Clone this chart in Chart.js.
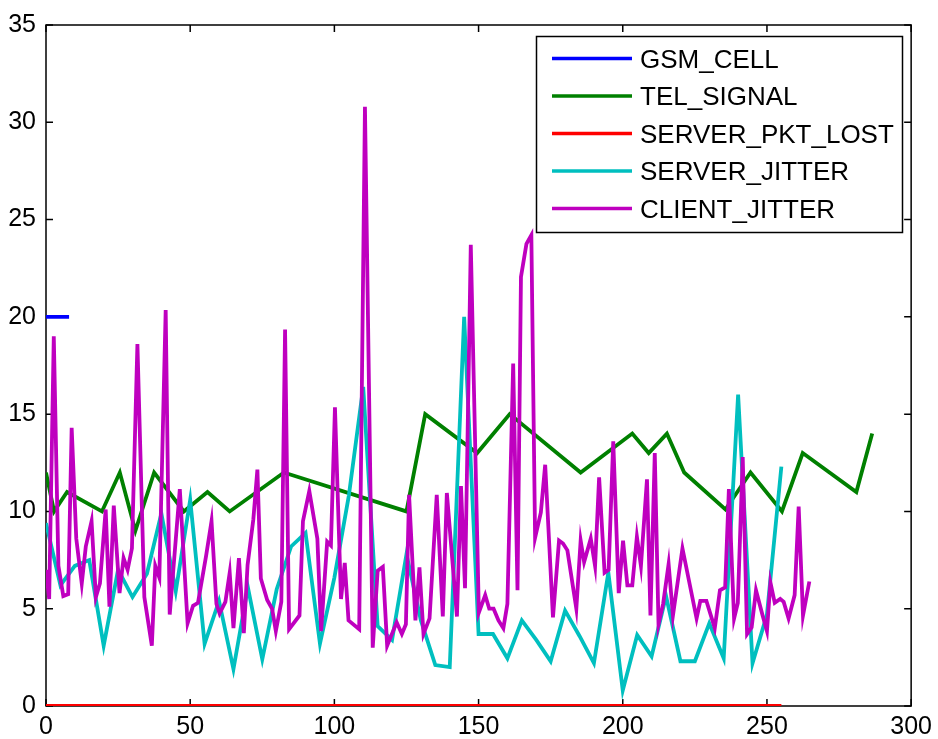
<!DOCTYPE html>
<html>
<head>
<meta charset="utf-8">
<script src="https://cdn.jsdelivr.net/npm/chart.js@4"></script>
<style>
  html, body { margin: 0; padding: 0; background: #fff; }
  #wrap { width: 938px; height: 739px; }
</style>
</head>
<body>
<div id="wrap"><canvas id="chart" width="938" height="739"></canvas></div>
<script>
// tick labels
const xTickValues = [0, 50, 100, 150, 200, 250, 300];
const yTickValues = [0, 5, 10, 15, 20, 25, 30, 35];

// GSM_CELL
const gsmX = [0, 8];
const gsmCell = [20, 20];

// TEL_SIGNAL
const telX = [0, 2.8, 7.3, 19.4, 25.6, 31, 37.5, 47.8, 56, 63.7, 82.5, 125, 131.5, 149.5, 160.8,
  185.4, 203.3, 209, 215.3, 221.3, 235.6, 244.3, 255.2, 262.4, 281, 286.5];
const telSignal = [12, 10, 11, 10, 12, 9, 12, 10, 11, 10, 12, 10, 15, 13, 15,
  12, 14, 13, 14, 12, 10.1, 12, 10, 13, 11, 14];

// SERVER_PKT_LOST
const lostX = [0, 255];
const serverPktLost = [0, 0];

// SERVER_JITTER
const srvX = [0, 5, 10, 15, 20, 25, 30, 35, 40, 45, 50, 55, 60, 65, 70, 75, 80, 85, 90, 95,
  100, 105, 110, 115, 120, 125, 130, 135, 140, 145, 150, 155, 160, 165, 170, 175, 180, 185, 190, 195,
  200, 205, 210, 215, 220, 225, 230, 235, 240, 245, 250, 255];
const serverJitter = [9.4, 6.2, 7.2, 7.5, 3.1, 7.0, 5.6, 6.8, 9.9, 5.9, 10.6, 3.2, 5.4, 1.9, 6.1, 2.4, 6.0, 8.2, 8.9, 3.2,
  6.6, 10.8, 16.4, 4.1, 3.4, 7.8, 4.4, 2.1, 2.0, 20.0, 3.7, 3.7, 2.45, 4.4, 3.4, 2.3, 4.9, 3.6, 2.2, 6.85,
  0.8, 3.65, 2.55, 5.65, 2.3, 2.3, 4.25, 2.45, 16.0, 2.2, 4.7, 12.3];

// CLIENT_JITTER
const cliX = [0, 1.1, 2.7, 4.3, 6.0, 7.7, 8.9, 10.5, 12.4, 13.8, 15.8, 17.3, 18.7, 20.7, 22.0, 23.5, 25.5, 26.9, 28.3, 29.8,
  31.7, 34.1, 36.7, 37.9, 39.3, 41.5, 42.9, 46.4, 49.1, 51.0, 52.7, 55.5, 57.4, 59.1, 60.2, 62.2, 63.7, 65.0, 66.9, 68.6,
  69.9, 71.9, 73.3, 74.5, 76.7, 78.4, 79.7, 81.6, 82.9, 84.3, 87.9, 89.1, 91.3, 94.1, 95.4, 97.5, 98.8, 100.2, 102.3, 103.6,
  104.9, 108.6, 110.6, 113.3, 115.0, 116.8, 118.3, 121.6, 123.4, 124.8, 125.9, 128.1, 129.5, 130.9, 133.0, 135.5, 137.6, 139.0, 142.5, 143.9,
  145.3, 147.3, 150.1, 152.3, 153.7, 155.2, 156.9, 158.6, 160.0, 162.0, 163.5, 164.7, 166.6, 168.3, 169.6, 171.6, 173.1, 175.8, 177.9, 179.3,
  180.8, 183.9, 185.4, 186.6, 188.9, 190.4, 191.8, 193.7, 195.1, 196.7, 198.6, 200.1, 201.6, 203.3, 204.9, 206.3, 208.4, 209.6, 211.1, 212.4,
  214.0, 215.9, 217.4, 220.7, 225.6, 226.9, 229.0, 231.9, 233.7, 235.5, 236.8, 238.6, 239.9, 241.6, 243.1, 244.7, 246.2, 248.4, 250.0, 251.2,
  252.7, 254.6, 255.8, 257.5, 259.6, 261.0, 262.5, 264.7];
const clientJitter = [7.0, 5.5, 19.0, 7.2, 5.65, 5.75, 14.3, 8.6, 6.3, 8.2, 9.5, 5.6, 6.3, 10.1, 5.1, 10.3, 5.8, 7.6, 7.0, 8.1,
  18.6, 5.6, 3.1, 7.2, 6.6, 20.35, 4.7, 11.15, 4.25, 5.15, 5.3, 7.7, 9.5, 5.25, 4.75, 5.35, 6.85, 4.0, 7.6, 3.75,
  7.25, 9.6, 12.15, 6.55, 5.45, 5.0, 3.85, 5.35, 19.35, 3.95, 4.65, 9.5, 11.05, 8.6, 3.85, 8.45, 8.25, 15.35, 5.5, 7.35,
  4.4, 3.95, 30.8, 3.0, 6.95, 7.15, 3.1, 4.3, 3.7, 4.2, 10.85, 4.4, 7.13, 3.7, 4.5, 10.85, 4.6, 10.95, 4.6, 11.3,
  6.05, 23.7, 4.8, 5.7, 5.0, 5.0, 4.4, 4.0, 5.25, 17.6, 5.95, 22.05, 23.75, 24.2, 8.65, 9.95, 12.4, 4.55, 8.5, 8.35,
  8.0, 5.0, 8.5, 7.4, 8.6, 7.2, 11.75, 6.85, 7.0, 13.6, 5.8, 8.5, 6.2, 6.2, 8.7, 7.2, 11.65, 4.65, 13.0, 4.2,
  5.25, 7.3, 4.65, 8.1, 4.5, 5.4, 5.4, 4.0, 5.95, 6.1, 11.15, 4.5, 5.3, 12.8, 3.7, 4.05, 5.95, 4.7, 3.85, 6.35,
  5.3, 5.5, 5.35, 4.5, 5.7, 10.25, 4.65, 6.4];

const pts = (xs, ys) => xs.map((x, i) => ({ x: x, y: ys[i] }));
const FONT = "'Liberation Sans', Arial, sans-serif";

// MATLAB style box with inward ticks
const axisBox = {
  id: 'axisBox',
  beforeDatasetsDraw(chart) {
    const { ctx, chartArea: a, scales: { x, y } } = chart;
    ctx.save();
    ctx.strokeStyle = '#000';
    ctx.lineWidth = 1.5;
    ctx.strokeRect(a.left, a.top, a.right - a.left, a.bottom - a.top);
    ctx.beginPath();
    x.ticks.forEach(t => {
      const px = x.getPixelForValue(t.value);
      ctx.moveTo(px, a.bottom); ctx.lineTo(px, a.bottom - 7);
      ctx.moveTo(px, a.top); ctx.lineTo(px, a.top + 7);
    });
    y.ticks.forEach(t => {
      const py = y.getPixelForValue(t.value);
      ctx.moveTo(a.left, py); ctx.lineTo(a.left + 7, py);
      ctx.moveTo(a.right, py); ctx.lineTo(a.right - 7, py);
    });
    ctx.stroke();
    ctx.restore();
  }
};

// legend box in the top right corner
const boxLegend = {
  id: 'boxLegend',
  afterDraw(chart) {
    const { ctx } = chart;
    const left = 536.5, top = 36.5, w = 366, h = 196;
    ctx.save();
    ctx.fillStyle = '#fff';
    ctx.fillRect(left, top, w, h);
    ctx.strokeStyle = '#000';
    ctx.lineWidth = 1.5;
    ctx.strokeRect(left, top, w, h);
    ctx.font = '26px ' + FONT;
    ctx.textBaseline = 'middle';
    chart.data.datasets.forEach((ds, i) => {
      const cy = 58.5 + i * 37.5;
      ctx.strokeStyle = ds.borderColor;
      ctx.lineWidth = 3.5;
      ctx.beginPath();
      ctx.moveTo(552, cy); ctx.lineTo(632, cy);
      ctx.stroke();
      ctx.fillStyle = '#000';
      ctx.fillText(ds.label, 640, cy + 2);
    });
    ctx.restore();
  }
};

new Chart(document.getElementById('chart'), {
  type: 'line',
  data: {
    // later series sit on top, like the original plot
    datasets: [
      { label: 'GSM_CELL', data: pts(gsmX, gsmCell), borderColor: '#0000ff', order: 5 },
      { label: 'TEL_SIGNAL', data: pts(telX, telSignal), borderColor: '#008000', order: 4 },
      { label: 'SERVER_PKT_LOST', data: pts(lostX, serverPktLost), borderColor: '#ff0000', order: 3 },
      { label: 'SERVER_JITTER', data: pts(srvX, serverJitter), borderColor: '#00bfbf', order: 2 },
      { label: 'CLIENT_JITTER', data: pts(cliX, clientJitter), borderColor: '#bf00bf', order: 1 }
    ]
  },
  options: {
    responsive: false,
    animation: false,
    layout: { padding: { top: 22, right: 24, left: 0, bottom: 0 } },
    elements: {
      line: { borderWidth: 3.8, tension: 0 },
      point: { radius: 0 }
    },
    plugins: {
      legend: { display: false },
      tooltip: { enabled: false }
    },
    scales: {
      x: {
        type: 'linear',
        min: 0,
        max: 300,
        afterBuildTicks: s => { s.ticks = xTickValues.map(v => ({ value: v })); },
        afterFit: s => { s.height = 33; },
        grid: { display: false, drawTicks: false },
        border: { display: false },
        ticks: { color: '#000', padding: 6, maxRotation: 0, font: { family: FONT, size: 25 } }
      },
      y: {
        type: 'linear',
        min: 0,
        max: 35,
        afterBuildTicks: s => { s.ticks = yTickValues.map(v => ({ value: v })); },
        afterFit: s => { s.width = 46; },
        grid: { display: false, drawTicks: false },
        border: { display: false },
        ticks: { color: '#000', padding: 10, font: { family: FONT, size: 25 } }
      }
    }
  },
  plugins: [axisBox, boxLegend]
});
</script>
</body>
</html>
